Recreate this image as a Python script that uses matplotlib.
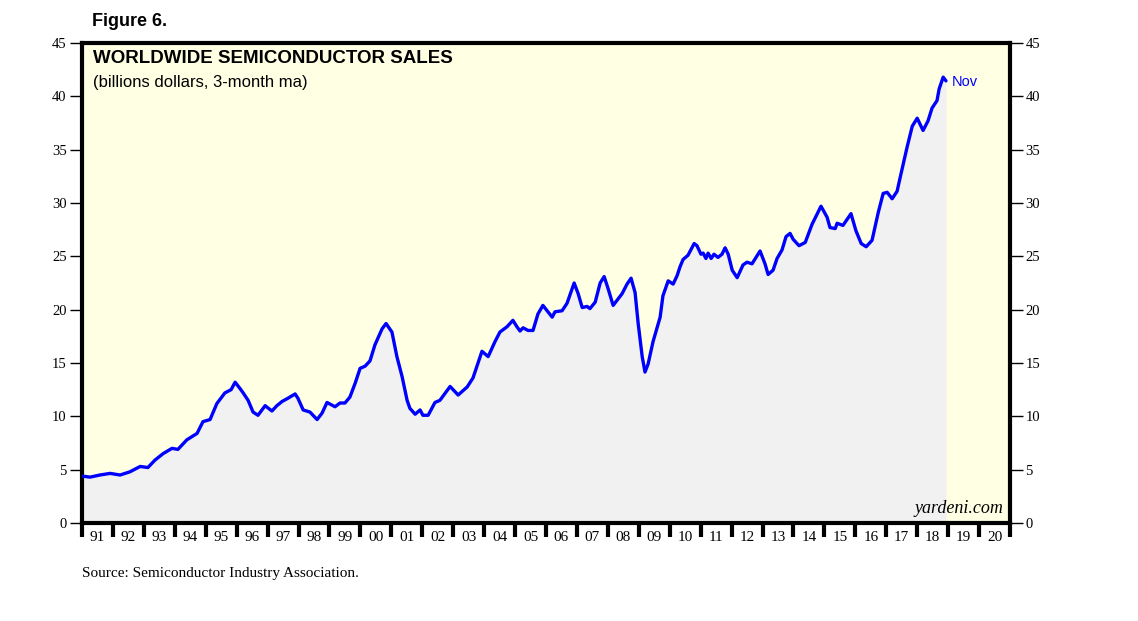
import matplotlib
matplotlib.use("Agg")
import matplotlib.pyplot as plt
import numpy as np

# Decimal-year positions and values (billions $, 3-month ma)
years = [1991.00, 1991.26, 1991.58, 1991.91, 1992.23, 1992.55, 1992.88, 1993.13, 1993.36, 1993.62,
         1993.91, 1994.10, 1994.39, 1994.72, 1994.91, 1995.14, 1995.36, 1995.62, 1995.82, 1995.95,
         1996.11, 1996.21, 1996.37, 1996.53, 1996.69, 1996.92, 1997.14, 1997.30, 1997.47, 1997.66,
         1997.89, 1997.98, 1998.15, 1998.37, 1998.60, 1998.76, 1998.92, 1999.18, 1999.34, 1999.50,
         1999.66, 1999.83, 1999.99, 2000.15, 2000.31, 2000.47, 2000.70, 2000.83, 2001.02, 2001.18,
         2001.35, 2001.51, 2001.60, 2001.77, 2001.93, 2002.02, 2002.19, 2002.41, 2002.57, 2002.90,
         2003.16, 2003.45, 2003.64, 2003.93, 2004.13, 2004.35, 2004.51, 2004.74, 2004.93, 2005.06,
         2005.16, 2005.26, 2005.42, 2005.58, 2005.74, 2005.90, 2006.20, 2006.29, 2006.52, 2006.68,
         2006.91, 2007.04, 2007.17, 2007.33, 2007.42, 2007.59, 2007.75, 2007.88, 2008.01, 2008.17,
         2008.30, 2008.46, 2008.62, 2008.75, 2008.88, 2008.98, 2009.11, 2009.20, 2009.30, 2009.46,
         2009.69, 2009.78, 2009.95, 2010.11, 2010.24, 2010.33, 2010.43, 2010.59, 2010.79, 2010.88,
         2011.01, 2011.08, 2011.17, 2011.24, 2011.34, 2011.43, 2011.56, 2011.69, 2011.79, 2011.89,
         2012.02, 2012.18, 2012.37, 2012.50, 2012.66, 2012.92, 2013.08, 2013.18, 2013.34, 2013.47,
         2013.63, 2013.76, 2013.89, 2013.99, 2014.18, 2014.38, 2014.60, 2014.89, 2015.09, 2015.18,
         2015.35, 2015.41, 2015.60, 2015.86, 2015.93, 2016.02, 2016.19, 2016.35, 2016.54, 2016.74,
         2016.90, 2017.03, 2017.19, 2017.35, 2017.45, 2017.67, 2017.84, 2018.00, 2018.19, 2018.35,
         2018.48, 2018.64, 2018.71, 2018.84, 2018.93]
sales = [4.4, 4.3, 4.5, 4.65, 4.5, 4.8, 5.3, 5.2, 5.9, 6.5,
         7.0, 6.9, 7.8, 8.4, 9.5, 9.7, 11.2, 12.2, 12.5, 13.2,
         12.6, 12.2, 11.5, 10.4, 10.1, 11.0, 10.5, 11.0, 11.4, 11.7,
         12.1, 11.7, 10.6, 10.4, 9.7, 10.3, 11.3, 10.9, 11.25, 11.25,
         11.8, 13.1, 14.5, 14.7, 15.2, 16.7, 18.2, 18.7, 17.9, 15.6,
         13.7, 11.5, 10.75, 10.2, 10.6, 10.1, 10.1, 11.3, 11.5, 12.8,
         12.0, 12.75, 13.6, 16.1, 15.6, 17.0, 17.9, 18.4, 19.0, 18.4,
         18.0, 18.3, 18.05, 18.05, 19.6, 20.4, 19.3, 19.8, 19.9, 20.6,
         22.5, 21.5, 20.2, 20.3, 20.1, 20.7, 22.5, 23.1, 21.95, 20.4,
         20.9, 21.5, 22.4, 22.95, 21.6, 18.7, 15.6, 14.15, 14.9, 17.0,
         19.3, 21.3, 22.7, 22.4, 23.2, 24.0, 24.7, 25.1, 26.2, 26.0,
         25.2, 25.3, 24.8, 25.3, 24.8, 25.2, 24.9, 25.2, 25.8, 25.2,
         23.7, 23.0, 24.2, 24.45, 24.3, 25.5, 24.3, 23.3, 23.7, 24.8,
         25.6, 26.85, 27.15, 26.6, 26.0, 26.3, 28.0, 29.7, 28.65, 27.7,
         27.6, 28.1, 27.9, 29.0, 28.3, 27.4, 26.2, 25.9, 26.5, 29.1,
         30.9, 31.0, 30.4, 31.1, 32.4, 35.2, 37.2, 37.95, 36.8, 37.7,
         38.9, 39.6, 40.7, 41.8, 41.45]

year_ticks = list(range(1991, 2022))
year_labels = ["91", "92", "93", "94", "95", "96", "97", "98", "99", "00",
               "01", "02", "03", "04", "05", "06", "07", "08", "09", "10",
               "11", "12", "13", "14", "15", "16", "17", "18", "19", "20"]
y_ticks = [0, 5, 10, 15, 20, 25, 30, 35, 40, 45]

fig = plt.figure(figsize=(11.38, 6.21), dpi=100)
ax = fig.add_axes([82/1138, 1-523/621, (1010-82)/1138, (523-43)/621])
ax.set_facecolor("#FFFFE3")

ax.fill_between(years, 0, sales, color="#F1F1F1", zorder=1, linewidth=0)
ax.plot(years, sales, color="#0000FF", linewidth=2.4, zorder=3,
        solid_capstyle="round", solid_joinstyle="round")

ax.set_xlim(1991, 2021)
ax.set_ylim(0, 45)

for s in ax.spines.values():
    s.set_linewidth(3)
    s.set_color("black")

serif = ["Liberation Serif", "DejaVu Serif"]
sans = ["Liberation Sans", "DejaVu Sans"]

ax.set_yticks(y_ticks)
ax.set_yticklabels([str(v) for v in y_ticks], fontfamily=serif, fontsize=10.5)
ax.tick_params(axis="y", which="major", direction="out", length=9, width=1,
               left=True, right=True, labelleft=True, labelright=True, pad=2)

ax.set_xticks(year_ticks)
ax.set_xticklabels([])
ax.tick_params(axis="x", which="major", direction="out", length=10, width=3, bottom=True, top=False)
ax.set_xticks([y + 0.5 for y in year_ticks[:-1]], minor=True)
ax.set_xticklabels(year_labels, minor=True, fontfamily=serif, fontsize=11)
ax.tick_params(axis="x", which="minor", length=0, pad=6)

ax.text(0.012, 0.985, "WORLDWIDE SEMICONDUCTOR SALES", transform=ax.transAxes,
        fontfamily=sans, fontweight="bold", fontsize=13.5, va="top", ha="left")
ax.text(0.012, 0.933, "(billions dollars, 3-month ma)", transform=ax.transAxes,
        fontfamily=sans, fontsize=12, va="top", ha="left")
ax.annotate("Nov", xy=(years[-1], sales[-1]), xytext=(4, -1), textcoords="offset points",
            color="#0000FF", fontfamily=sans, fontsize=10.5, va="center", ha="left")
ax.text(0.993, 0.012, "yardeni.com", transform=ax.transAxes, fontfamily=serif,
        fontstyle="italic", fontsize=13, ha="right", va="bottom")

fig.text(92/1138, 1-21/621, "Figure 6.", fontfamily=sans, fontweight="bold",
         fontsize=13, va="center", ha="left")
fig.text(82/1138, 1-573/621, "Source: Semiconductor Industry Association.", fontfamily=serif,
         fontsize=11, va="center", ha="left")

fig.savefig("out.png", dpi=100)
